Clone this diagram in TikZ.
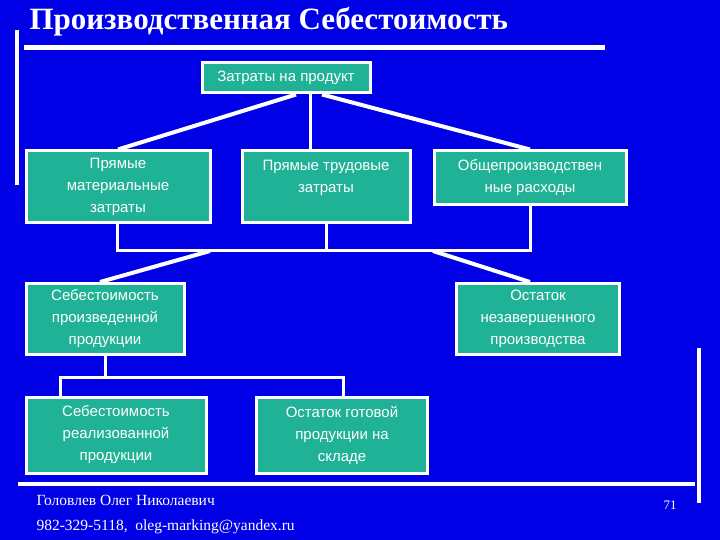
\documentclass[tikz,border=0pt]{standalone}
\usepackage{fontspec}
\setmainfont{Liberation Serif}
\newfontfamily\boxfont{Liberation Sans}
\definecolor{bg}{RGB}{0,0,230}
\definecolor{teal1}{RGB}{32,178,150}
\begin{document}
\begin{tikzpicture}[x=1pt,y=-1pt,
  bx/.style={draw=white,line width=3pt,fill=teal1,text=white,font=\boxfont\fontsize{15}{22}\selectfont,align=center,inner sep=2pt},
  ln/.style={white,line width=4pt},
  tn/.style={white,line width=3pt}]
\fill[bg] (0,0) rectangle (720,540);
\useasboundingbox (0,0) rectangle (720,540);
\node[anchor=west,text=white,font=\bfseries\fontsize{31}{34}\selectfont] (title) at (26,22) {Производственная Себестоимость};
\fill[white] (15,30) rectangle (19,185);
\fill[white] (24,45) rectangle (605,50);
\node[bx,minimum width=168pt,minimum height=30pt] (top) at (286,78) {Затраты на продукт};
\node[bx,minimum width=184pt,minimum height=72pt] (b1) at (118,187) {Прямые\\материальные\\затраты};
\node[bx,minimum width=168pt,minimum height=72pt] (b2) at (326,187) {Прямые трудовые\\затраты\\\mbox{}};
\node[bx,minimum width=192pt,minimum height=54pt] (b3) at (530,178) {Общепроизводствен\\ные расходы};
\node[bx,minimum width=158pt,minimum height=71pt] (b4) at (105,319) {Себестоимость\\произведенной\\продукции};
\node[bx,minimum width=163pt,minimum height=71pt] (b5) at (538,319) {Остаток\\незавершенного\\производства};
\node[bx,minimum width=180pt,minimum height=76pt] (b6) at (116,435) {Себестоимость\\реализованной\\продукции};
\node[bx,minimum width=171pt,minimum height=76pt] (b7) at (342,435) {Остаток готовой\\продукции на\\складе};
% top connectors
\draw[ln] ([xshift=10pt]top.south) -- (b1.north);
\draw[tn] ([xshift=24pt]top.south) -- ([xshift=-16pt]b2.north);
\draw[ln] ([xshift=36pt]top.south) -- (b3.north);
% bracket
\coordinate (jl) at (117,250); \coordinate (jr) at (530,250);
\draw[tn] (b1.south -| jl) -- (jl) -- (jr) -- (b3.south -| jr);
\draw[tn] (b2.south) -- (b2.south |- jl);
\coordinate (ja) at (210,251); \coordinate (jb) at (433,251);
\draw[ln] (ja) -- ([xshift=-5pt]b4.north);
\draw[ln] (jb) -- ([xshift=-8pt]b5.north);
% lower bracket
\coordinate (kl) at (60,377); \coordinate (kr) at (343,377);
\draw[tn] (b4.south) -- (b4.south |- kl);
\draw[tn] (b6.north -| kl) -- (kl) -- (kr) -- (b7.north -| kr);
% frame lines
\fill[white] (18,482) rectangle (695,486);
\fill[white] (697,348) rectangle (701,503);
\node[anchor=west,text=white,font=\fontsize{15.5}{18}\selectfont] (au) at (33,500) {Головлев Олег Николаевич};
\node[anchor=west,text=white,font=\fontsize{15.5}{18}\selectfont] (ct) at (33,527) {982-329-5118,\ \ oleg-marking@yandex.ru};
\node[text=white,font=\fontsize{13}{15}\selectfont] (pg) at (670,505) {71};
\end{tikzpicture}
\end{document}
